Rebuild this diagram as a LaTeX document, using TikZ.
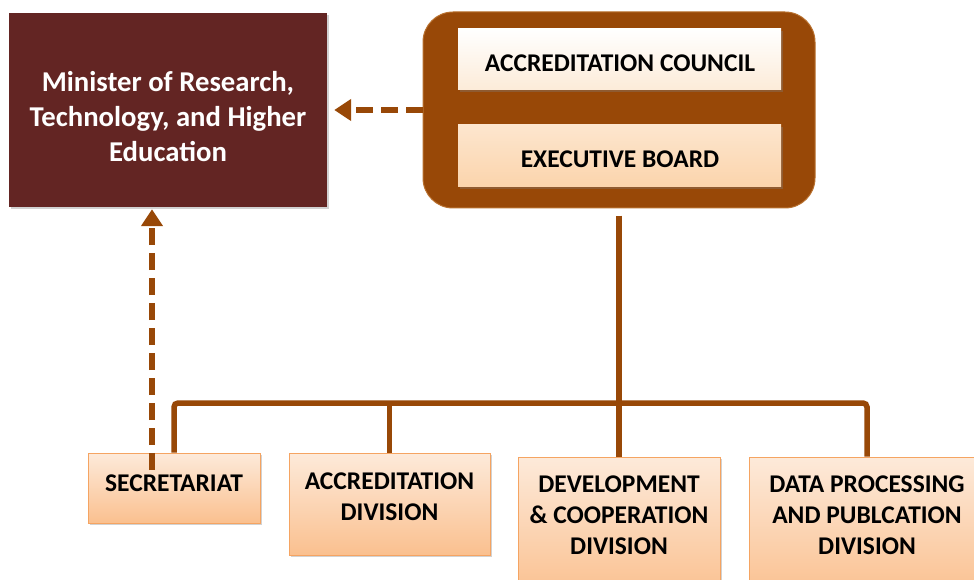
\documentclass[tikz,border=0pt]{standalone}
\usepackage{fontspec}
\setmainfont{Carlito}
\usetikzlibrary{arrows.meta,shadows,calc}
\definecolor{minred}{HTML}{632523}
\definecolor{brn}{HTML}{984807}
\definecolor{brnedge}{HTML}{B8702E}
\definecolor{boxtop}{HTML}{FDEADA}
\definecolor{boxbot}{HTML}{FAC08F}
\definecolor{boxedge}{HTML}{F5A462}
\definecolor{councilbot}{HTML}{FCEBD8}
\definecolor{exectop}{HTML}{FDE6CE}
\definecolor{execbot}{HTML}{FBD4AC}
\tikzset{
  shade/.style={drop shadow={opacity=0.35,shadow xshift=2pt,shadow yshift=-2pt}},
  minbox/.style={rectangle,fill=minred,shade,inner sep=0pt},
  mintext/.style={text=white,font=\bfseries\fontsize{28.7}{35}\selectfont,align=center,inner sep=0pt},
  outerbox/.style={rectangle,rounded corners=30pt,fill=brn,draw=brnedge,line width=1pt,inner sep=0pt},
  innerbox/.style={rectangle,shade,inner sep=0pt},
  innertext/.style={font=\bfseries\fontsize{25.5}{30}\selectfont,inner sep=0pt},
  divbox/.style={rectangle,draw=boxedge,line width=0.8pt,top color=boxtop,bottom color=boxbot,shade,inner sep=0pt},
  divtext/.style={font=\bfseries\fontsize{25.5}{31}\selectfont,align=center,inner sep=0pt},
  conn/.style={draw=brn,line width=5.5pt},
  dasharrow/.style={draw=brn,line width=6.5pt,dash pattern=on 17pt off 8pt,-{Triangle[width=21pt,length=17pt]}}
}
\begin{document}
\begin{tikzpicture}[x=1pt,y=-1pt]
\useasboundingbox (0,0) rectangle (974,580);
\clip (0,0) rectangle (974,580);
\fill[white] (0,0) rectangle (974,580);
% top boxes
\node[minbox,minimum width=318pt,minimum height=194pt] (minister) at (168,110) {};
\node[mintext] (mintxt) at (168,117) {Minister of Research,\\Technology, and Higher\\Education};
\node[outerbox,minimum width=392pt,minimum height=196pt] (outer) at (619,110) {};
\node[innerbox,top color=white,bottom color=councilbot,minimum width=323pt,minimum height=61pt] (council) at (619.5,59.5) {};
\node[innertext] (counciltxt) at (620,63) {ACCREDITATION COUNCIL};
\node[innerbox,top color=exectop,bottom color=execbot,minimum width=323pt,minimum height=62pt] (exec) at (619.5,156) {};
\node[innertext] (exectxt) at (620,159) {EXECUTIVE BOARD};
% bottom boxes
\node[divbox,minimum width=172pt,minimum height=70pt] (sec) at (174,488) {};
\node[divtext] (sectxt) at (174,483) {SECRETARIAT};
\node[divbox,minimum width=201pt,minimum height=102pt] (acc) at (389.5,504) {};
\node[divtext] (acctext) at (389.5,497) {ACCREDITATION\\DIVISION};
\node[divbox,minimum width=202pt,minimum height=140pt] (dev) at (619,527) {};
\node[divtext] (devtext) at (619,515) {DEVELOPMENT\\\& COOPERATION\\DIVISION};
\node[divbox,minimum width=236pt,minimum height=140pt] (data) at (867,527) {};
\node[divtext] (datatext) at (867,515) {DATA PROCESSING\\AND PUBLCATION\\DIVISION};
% connectors
\coordinate (bus) at (619,403);
\coordinate (stem) at ($(outer.south)+(0,7)$);
\draw[conn] (stem) -- (dev.north);
\draw[conn,rounded corners=4pt] (sec.north) |- (bus) -| (data.north);
\draw[conn] (acc.north) -- (acc.north |- bus);
\draw[dasharrow,shorten >=7pt] (outer.west) -- (minister.east);
\coordinate (secdash) at (152,470);
\draw[dasharrow,shorten >=2pt] (secdash) -- (secdash |- minister.south);
\end{tikzpicture}
\end{document}
